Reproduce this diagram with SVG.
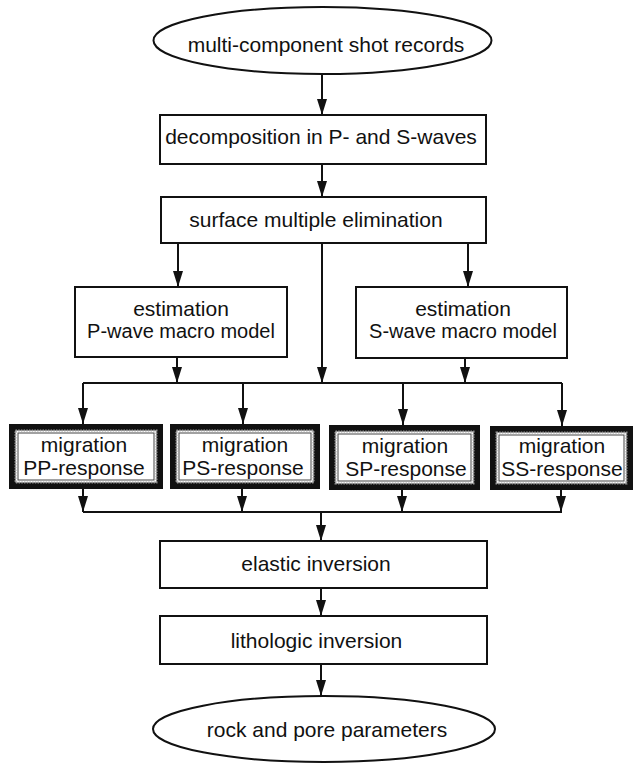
<svg xmlns="http://www.w3.org/2000/svg" width="635" height="764" viewBox="0 0 635 764">
  <style>
    .bx{fill:#fff;stroke:#111;stroke-width:2}
    .el{fill:#fff;stroke:#111;stroke-width:2}
    .t{font-family:"Liberation Sans",Arial,Helvetica,sans-serif;font-size:21px;fill:#111;text-anchor:middle}
    .ts{font-size:20px}
    .c{fill:none;stroke:#111;stroke-width:2}
    .mo{fill:#111}
    .mb{fill:#fff;stroke:#9a9a9a;stroke-width:2;stroke-dasharray:1.5 1.2}
    .mi{fill:#fff;stroke:#444;stroke-width:1}
  </style>
  <defs>
    <marker id="ah" markerUnits="userSpaceOnUse" markerWidth="17" markerHeight="11" refX="16" refY="5" orient="auto">
      <path d="M0,0 L16,5 L0,10 Z" fill="#111"/>
    </marker>
  </defs>

  <g id="connectors">
    <path class="c" d="M322,74 V115" marker-end="url(#ah)"/>
    <path class="c" d="M322,164 V197" marker-end="url(#ah)"/>
    <path class="c" d="M178,243 V287" marker-end="url(#ah)"/>
    <path class="c" d="M468,243 V287" marker-end="url(#ah)"/>
    <path class="c" d="M322,243 V383" marker-end="url(#ah)"/>
    <path class="c" d="M177,357 V383" marker-end="url(#ah)"/>
    <path class="c" d="M465,358 V383" marker-end="url(#ah)"/>
    <path class="c" d="M83,383 H562"/>
    <path class="c" d="M83,383 V424" marker-end="url(#ah)"/>
    <path class="c" d="M243,383 V424" marker-end="url(#ah)"/>
    <path class="c" d="M403,383 V425" marker-end="url(#ah)"/>
    <path class="c" d="M562,383 V426" marker-end="url(#ah)"/>
    <path class="c" d="M83,489 V512" marker-end="url(#ah)"/>
    <path class="c" d="M242,489 V512" marker-end="url(#ah)"/>
    <path class="c" d="M402,490 V512" marker-end="url(#ah)"/>
    <path class="c" d="M561,489 V512" marker-end="url(#ah)"/>
    <path class="c" d="M83,512 H562"/>
    <path class="c" d="M321,512 V541" marker-end="url(#ah)"/>
    <path class="c" d="M321,588 V616" marker-end="url(#ah)"/>
    <path class="c" d="M321,664 V696" marker-end="url(#ah)"/>
  </g>

  <g id="shot-records">
    <ellipse class="el" cx="322.5" cy="40.5" rx="169" ry="33.5"/>
    <text class="t" x="326" y="52">multi-component shot records</text>
  </g>
  <g id="decomposition">
    <rect class="bx" x="160" y="115" width="326" height="49"/>
    <text class="t" x="321" y="144">decomposition in P- and S-waves</text>
  </g>
  <g id="multiple-elimination">
    <rect class="bx" x="161" y="197" width="325" height="46"/>
    <text class="t" x="316" y="227">surface multiple elimination</text>
  </g>
  <g id="p-macro">
    <rect class="bx" x="75" y="287" width="212" height="70"/>
    <text class="t" x="181" y="316">estimation</text>
    <text class="t ts" x="181" y="338">P-wave macro model</text>
  </g>
  <g id="s-macro">
    <rect class="bx" x="356" y="287" width="211" height="71"/>
    <text class="t" x="463" y="316">estimation</text>
    <text class="t ts" x="463" y="338">S-wave macro model</text>
  </g>

  <g id="mig-pp">
    <rect class="mo" x="9" y="424" width="154" height="65"/>
    <rect class="mb" x="15.5" y="430.5" width="141" height="52"/>
    <rect class="mi" x="18" y="433" width="136" height="47"/>
    <text class="t" x="84" y="452">migration</text>
    <text class="t" x="84" y="475">PP-response</text>
  </g>
  <g id="mig-ps">
    <rect class="mo" x="170" y="424" width="150" height="65"/>
    <rect class="mb" x="176.5" y="430.5" width="137" height="52"/>
    <rect class="mi" x="179" y="433" width="132" height="47"/>
    <text class="t" x="245" y="452">migration</text>
    <text class="t" x="243" y="475">PS-response</text>
  </g>
  <g id="mig-sp">
    <rect class="mo" x="329" y="425" width="151" height="65"/>
    <rect class="mb" x="335.5" y="431.5" width="138" height="52"/>
    <rect class="mi" x="338" y="434" width="133" height="47"/>
    <text class="t" x="405" y="453">migration</text>
    <text class="t" x="406" y="476">SP-response</text>
  </g>
  <g id="mig-ss">
    <rect class="mo" x="490" y="426" width="143" height="64"/>
    <rect class="mb" x="496.5" y="432.5" width="130" height="51"/>
    <rect class="mi" x="499" y="435" width="125" height="46"/>
    <text class="t" x="562" y="453">migration</text>
    <text class="t" x="562" y="476">SS-response</text>
  </g>

  <g id="elastic-inversion">
    <rect class="bx" x="160" y="541" width="327" height="47"/>
    <text class="t" x="316" y="571">elastic inversion</text>
  </g>
  <g id="lithologic-inversion">
    <rect class="bx" x="160" y="616" width="327" height="48"/>
    <text class="t" x="316.5" y="648">lithologic inversion</text>
  </g>
  <g id="rock-pore">
    <ellipse class="el" cx="324" cy="729" rx="171" ry="33"/>
    <text class="t" x="327" y="737">rock and pore parameters</text>
  </g>
</svg>
